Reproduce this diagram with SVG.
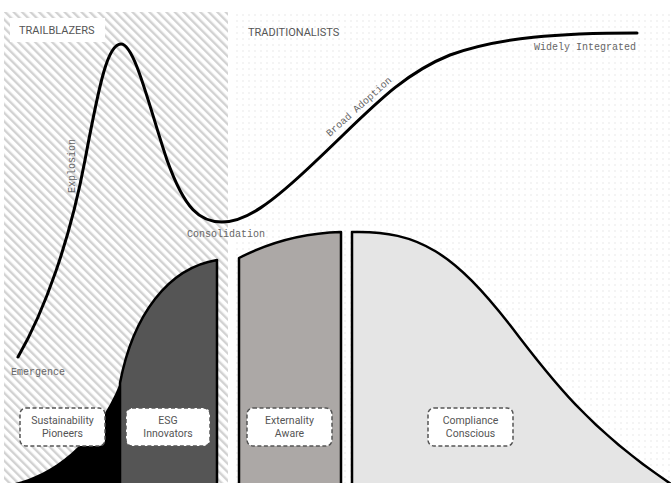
<svg xmlns="http://www.w3.org/2000/svg" width="671" height="483" viewBox="0 0 671 483">
  <defs>
    <pattern id="hatch" width="6" height="6" patternUnits="userSpaceOnUse" patternTransform="rotate(-45)">
      <rect width="6" height="6" fill="#ffffff"/>
      <rect x="0" y="0" width="2.4" height="6" fill="#d2d2d2"/>
    </pattern>
    <pattern id="dots" width="6" height="6" patternUnits="userSpaceOnUse">
      <rect width="6" height="6" fill="#ffffff"/>
      <circle cx="3" cy="3" r="0.7" fill="#e2e2e2"/>
    </pattern>
    <style>
      .cat { font-family: Roboto, "Liberation Sans", sans-serif; font-size: 11px; fill: #555; }
      .mono { font-family: "Liberation Mono", "DejaVu Sans Mono", monospace; font-size: 10px; fill: #666; }
      .seg { stroke: #000; stroke-width: 2.5; stroke-linejoin: round; }
      .box { fill: #fff; stroke: #555; stroke-width: 1.5; stroke-dasharray: 4 2.5; }
      .lbl { font-family: Roboto, "Liberation Sans", sans-serif; font-size: 10.5px; fill: #555; text-anchor: middle; }
    </style>
  </defs>

  <rect width="671" height="483" fill="#ffffff"/>
  <g id="backgrounds">
    <rect x="4" y="12" width="224" height="471" fill="url(#hatch)"/>
    <rect x="232" y="12" width="439" height="471" fill="url(#dots)"/>
  </g>

  <g id="segments">
    <g id="seg-pioneers">
      <path d="M 15 483 C 50 475, 95 445, 120 383 L 120 483 Z" fill="#000"/>
    </g>
    <g id="seg-esg">
      <path class="seg" d="M 120 486 L 120 383 C 133 315, 168 268, 217 260 L 217 486 Z" fill="#555555"/>
    </g>
    <g id="seg-externality">
      <path class="seg" d="M 239 486 L 239 258 C 270 242, 305 233, 341 232 L 341 486 Z" fill="#aca8a6"/>
    </g>
    <g id="seg-compliance">
      <path d="M 352 232 C 420 230, 455 255, 510 325 C 550 378, 590 430, 671 483 L 352 483 Z" fill="#e5e5e5"/>
      <path class="seg" fill="none" d="M 352 486 L 352 232 C 420 230, 455 255, 510 325 C 550 378, 590 430, 671 484"/>
    </g>
  </g>

  <g id="connectors">
    <path id="adoption-curve" d="M 18 357 C 45 310, 70 240, 85 160 C 100 80, 108 44, 121 44 C 135 44, 150 110, 167 160 C 185 210, 200 222, 222 222 C 245 222, 270 205, 317 160 C 370 110, 400 75, 450 55 C 500 37, 560 33, 637 33" fill="none" stroke="#000" stroke-width="3" stroke-linecap="round"/>
  </g>

  <g id="group-labels">
    <g id="trailblazers">
      <rect x="10" y="18" width="95" height="24" fill="#fff"/>
      <text class="cat" x="19" y="34">TRAILBLAZERS</text>
    </g>
    <g id="traditionalists">
      <text class="cat" x="248" y="36">TRADITIONALISTS</text>
    </g>
  </g>

  <g id="phase-labels">
    <text class="mono" x="11" y="375">Emergence</text>
    <text class="mono" transform="translate(75,166) rotate(-90)" text-anchor="middle">Explosion</text>
    <text class="mono" x="187" y="237">Consolidation</text>
    <text class="mono" transform="translate(361,109) rotate(-42)" text-anchor="middle">Broad Adoption</text>
    <text class="mono" x="636" y="50" text-anchor="end">Widely Integrated</text>
  </g>

  <g id="node-sustainability-pioneers">
    <rect class="box" x="20" y="408" width="85" height="38" rx="6"/>
    <text class="lbl" x="62.5" y="424">Sustainability</text>
    <text class="lbl" x="62.5" y="437">Pioneers</text>
  </g>
  <g id="node-esg-innovators">
    <rect class="box" x="126" y="408" width="84" height="38" rx="6"/>
    <text class="lbl" x="168" y="424">ESG</text>
    <text class="lbl" x="168" y="437">Innovators</text>
  </g>
  <g id="node-externality-aware">
    <rect class="box" x="247" y="408" width="85" height="38" rx="6"/>
    <text class="lbl" x="289.5" y="424">Externality</text>
    <text class="lbl" x="289.5" y="437">Aware</text>
  </g>
  <g id="node-compliance-conscious">
    <rect class="box" x="428" y="408" width="85" height="38" rx="6"/>
    <text class="lbl" x="470.5" y="424">Compliance</text>
    <text class="lbl" x="470.5" y="437">Conscious</text>
  </g>
</svg>
